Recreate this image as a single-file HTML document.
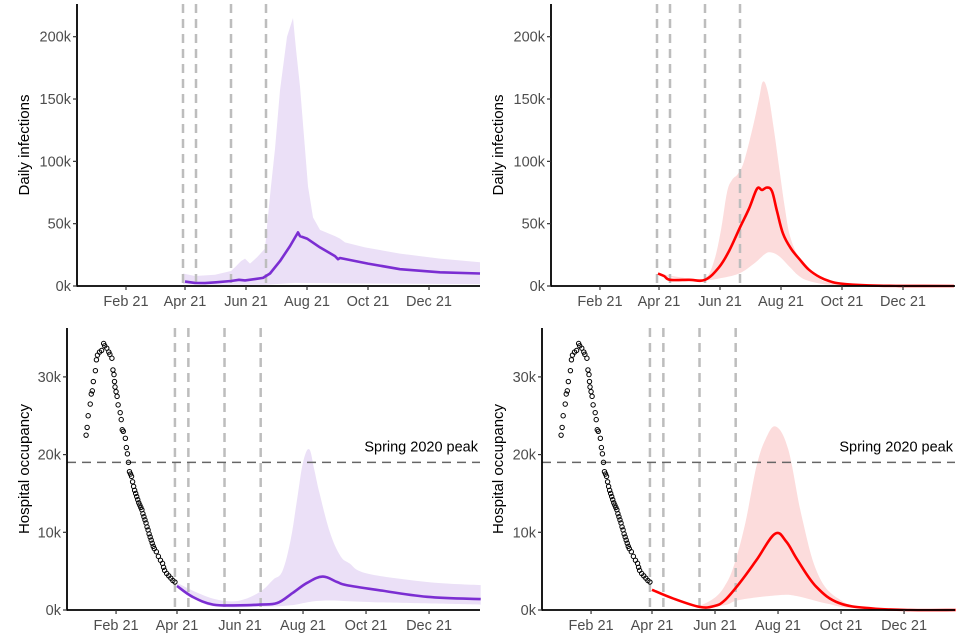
<!DOCTYPE html>
<html><head><meta charset="utf-8">
<style>
html,body{margin:0;padding:0;background:#fff;}
svg{display:block;font-family:"Liberation Sans",Arial,sans-serif;}
</style></head>
<body>
<svg id="chart" width="960" height="640" viewBox="0 0 960 640" xmlns="http://www.w3.org/2000/svg"></svg>
<script>
// ---- data (day index from 1 Jan 2021, values in thousands) ----
const monthLabels = ["Feb 21","Apr 21","Jun 21","Aug 21","Oct 21","Dec 21"];
const monthDays = [31,90,151,212,273,334];
const topTicks = [0,50,100,150,200];
const botTicks = [0,10,20,30];
const interventionDays = [88,101,136,171];
const springPeak = 19;

const tlMedDays = [90,100,110,121,136,144,150,160,168,175,185,195,203,205,212,225,240,243,245,273,305,345,385];
const tlMedVals = [3.5,2.5,2.3,3,4,5,4.5,5.5,6.5,10,20,32,43,40,38,31,24,21.5,22.5,18,13.5,11,10];
const tlUpDays = [88,100,120,136,140,146,150,155,162,170,172,176,180,185,192,198,201,205,209,213,218,225,240,245,250,270,305,345,385];
const tlUpVals = [10,8,9,12,15,20,22,18,23,30,48,80,110,157,200,215,190,160,120,80,55,45,40,38,35,31,26,22,19];
const tlLoDays = [88,120,170,200,250,385];
const tlLoVals = [1.5,1,1,2.5,2,1.5];

const trMedDays = [89,95,101,120,136,150,160,171,180,188,193,198,203,208,214,222,231,240,251,260,271,300,330,385];
const trMedVals = [10,8,5,5,5,15,28,47,62,78,77,79,76,60,42,30,21,13,7,4,2,0.5,0.1,0];
const trUpDays = [89,120,136,145,152,158,163,169,175,184,190,194,199,205,211,216,221,230,238,250,260,290,385];
const trUpVals = [10,6,6,20,45,75,85,90,100,128,150,164,155,125,90,62,40,22,13,6,3,0.5,0];
const trLoDays = [89,120,136,150,170,185,195,201,210,221,230,240,260,290,385];
const trLoVals = [9,4.5,4.5,6,10,18,25,27,24,15,8,4,1,0.2,0];

const blMedDays = [90,105,125,151,170,187,202,216,231,245,254,283,332,384];
const blMedVals = [3.1,1.7,0.7,0.6,0.7,0.9,2.2,3.5,4.3,3.6,3.2,2.6,1.7,1.4];
const blUpDays = [90,110,130,150,170,183,192,200,206,212,218,223,228,238,248,257,274,332,384];
const blUpVals = [3.5,2.2,1.3,1.2,2.3,3.9,5,9,14,19,20.7,18,15,10,7,6,4.7,3.6,3.2];
const blLoDays = [90,110,130,170,200,230,280,384];
const blLoVals = [3,1.2,0.4,0.4,0.6,1.2,1,0.7];

const brMedDays = [90,110,136,150,160,175,191,209,220,231,249,271,303,340,384];
const brMedVals = [2.6,1.5,0.4,0.5,1.2,3.5,6.4,9.8,8.8,6.4,3,0.9,0.2,0,0];
const brUpDays = [136,150,160,169,180,191,200,210,222,235,250,270,300,384];
const brUpVals = [0.5,1.5,3,5.6,11,18.4,22,23.6,20.6,12,4.8,1.5,0.3,0];
const brLoDays = [136,160,175,212,230,260,290,384];
const brLoVals = [0.4,0.6,1.3,1.9,1.8,0.8,0.2,0];

const obsDays = [2,3,4,6,7,8,9,11,12,13,15,17,19,20,22,24,25,27,28,29,29.5,30,31,32,33,35,36,37,38,40,41,42,43,44,45,46,47,48,49,50,51,52,53,54,55,56,57,58,59,60,61,62,63,64,65,66,67,68,70,72,74,76,77,78,80,82,84,86,88];
const obsVals = [22.5,23.5,25,26.5,27.8,28.2,29.4,30.8,32.2,32.8,33.2,33.4,34.3,34,33.7,33.2,32.9,32.4,30.9,30.3,29.4,28.7,28.1,27.5,26.4,25.4,24.5,23.2,23,22.1,20.9,20.1,19,17.8,17.5,17.2,16.5,15.9,15.4,15,14.6,14.2,13.8,13.5,13.2,12.9,12.4,12,11.6,11.2,10.7,10.3,9.8,9.4,9,8.6,8.2,7.9,7.5,6.9,6.4,6,5.5,5.1,4.7,4.4,4.1,3.8,3.6];

// ---- drawing ----
const svg = document.getElementById('chart');
const NS = 'http://www.w3.org/2000/svg';
function mk(tag, attrs, parent){
  const e = document.createElementNS(NS, tag);
  for (const k in attrs) e.setAttribute(k, attrs[k]);
  (parent||svg).appendChild(e);
  return e;
}
function toPts(days, vals, xs, ys){ return days.map((d,i)=>[xs(d), ys(vals[i])]); }
function pathD(p, smooth, cont){
  let s = (cont ? 'L' : 'M') + p[0][0].toFixed(1)+','+p[0][1].toFixed(1);
  for (let i=1;i<p.length;i++){
    if (!smooth){ s += 'L'+p[i][0].toFixed(1)+','+p[i][1].toFixed(1); continue; }
    const p0 = p[Math.max(0,i-2)], p1 = p[i-1], p2 = p[i], p3 = p[Math.min(p.length-1,i+1)];
    const t = 0.18;
    const c1x = p1[0] + (p2[0]-p0[0])*t, c1y = p1[1] + (p2[1]-p0[1])*t;
    const c2x = p2[0] - (p3[0]-p1[0])*t, c2y = p2[1] - (p3[1]-p1[1])*t;
    s += 'C'+c1x.toFixed(1)+','+c1y.toFixed(1)+' '+c2x.toFixed(1)+','+c2y.toFixed(1)+' '+p2[0].toFixed(1)+','+p2[1].toFixed(1);
  }
  return s;
}

function panel(cfg){
  const g = mk('g', {});
  
  
  const xs = cfg.xs, ys = cfg.ys;
  const up = toPts(cfg.upD, cfg.upV, xs, ys);
  const lo = toPts(cfg.loD, cfg.loV, xs, ys).reverse();
  const band = mk('path', {d: pathD(up, cfg.smooth) + pathD(lo, cfg.smooth, true) + 'Z', fill: cfg.bandColor, stroke:'none'}, g);
  
  
  interventionDays.forEach(d=>{
    const l = mk('line', {x1:xs(d), x2:xs(d), y1:cfg.top, y2:cfg.base, stroke:'#bdbdbd','stroke-width':2.5,'stroke-dasharray':'9,6'}, g);
    
    
  });
  if (cfg.spring){
    const sl = mk('line', {x1:cfg.left, x2:cfg.right, y1:ys(springPeak), y2:ys(springPeak), stroke:'#666','stroke-width':1.6,'stroke-dasharray':'9,6'}, g);
    
    
    const st = mk('text', {x:cfg.right-2, y:ys(springPeak)-11, 'text-anchor':'end','font-size':14.5, fill:'#000'}, g);
    st.textContent = 'Spring 2020 peak';
    
    
  }
  if (cfg.obs){
    obsDays.forEach((d,i)=>{
      const c = mk('circle', {cx:xs(d), cy:ys(obsVals[i]), r:2.2, fill:'none', stroke:'#000','stroke-width':1}, g);
      
      
    });
  }
  const ml = mk('path', {d: pathD(toPts(cfg.medD, cfg.medV, xs, ys), cfg.smooth), fill:'none', stroke:cfg.lineColor, 'stroke-width':2.6, 'stroke-linejoin':'round'}, g);
  
  
  const ya = mk('line', {x1:cfg.left, x2:cfg.left, y1:cfg.top, y2:cfg.base+0.8, stroke:'#000','stroke-width':1.8}, g);
  
  
  const xa = mk('line', {x1:cfg.left, x2:cfg.right, y1:cfg.base, y2:cfg.base, stroke:'#000','stroke-width':1.8}, g);
  
  
  cfg.yt.forEach(v=>{
    const y = ys(v);
    const tk = mk('line', {x1:cfg.left-4, x2:cfg.left, y1:y, y2:y, stroke:'#333','stroke-width':1.2}, g);
    
    
    const t = mk('text', {x:cfg.left-6, y:y+5, 'text-anchor':'end','font-size':14.5, fill:'#4d4d4d'}, g);
    t.textContent = v+'k';
    
    
  });
  monthDays.forEach((d,i)=>{
    const x = xs(d);
    const tk = mk('line', {x1:x, x2:x, y1:cfg.base, y2:cfg.base+4, stroke:'#333','stroke-width':1.2}, g);
    
    
    const t = mk('text', {x:x, y:cfg.base+20, 'text-anchor':'middle','font-size':14.5, fill:'#4d4d4d'}, g);
    t.textContent = monthLabels[i];
    
    
  });
  const cy = (cfg.top+cfg.base)/2;
  const yt = mk('text', {x:0, y:0, transform:'translate('+cfg.titleX+','+cy+') rotate(-90)', 'text-anchor':'middle','font-size':15, fill:'#000'}, g);
  yt.textContent = cfg.ytitle;
  
  
}

function topX(ox){ return d => 95 + d + ox; }
function topY(k){ return 286 - k*1.2465; }
function botX(ox){ return d => 177 + (d-90)*1.033 + ox; }
function botY(k){ return 610 - k*7.77; }

const purpleBand = '#ebe0f7', purpleLine = '#7b2ed2';
const redBand = '#fcdcdc', redLine = '#ff0000';

panel({name:'panel-infections-purple', xs:topX(0), ys:topY, left:77, right:480, top:4, base:286, yt:topTicks, ytitle:'Daily infections', titleX:29, smooth:false,
  medD:tlMedDays, medV:tlMedVals, upD:tlUpDays, upV:tlUpVals, loD:tlLoDays, loV:tlLoVals, bandColor:purpleBand, lineColor:purpleLine});
panel({name:'panel-infections-red', xs:topX(474), ys:topY, left:551, right:955, top:4, base:286, yt:topTicks, ytitle:'Daily infections', titleX:503, smooth:true,
  medD:trMedDays, medV:trMedVals, upD:trUpDays, upV:trUpVals, loD:trLoDays, loV:trLoVals, bandColor:redBand, lineColor:redLine});
panel({name:'panel-hospital-purple', xs:botX(0), ys:botY, left:67, right:480, top:328, base:610, yt:botTicks, ytitle:'Hospital occupancy', titleX:29, spring:true, obs:true, smooth:true,
  medD:blMedDays, medV:blMedVals, upD:blUpDays, upV:blUpVals, loD:blLoDays, loV:blLoVals, bandColor:purpleBand, lineColor:purpleLine});
panel({name:'panel-hospital-red', xs:botX(475), ys:botY, left:542, right:955, top:328, base:610, yt:botTicks, ytitle:'Hospital occupancy', titleX:503, spring:true, obs:true, smooth:true,
  medD:brMedDays, medV:brMedVals, upD:brUpDays, upV:brUpVals, loD:brLoDays, loV:brLoVals, bandColor:redBand, lineColor:redLine});
</script>
</body></html>
